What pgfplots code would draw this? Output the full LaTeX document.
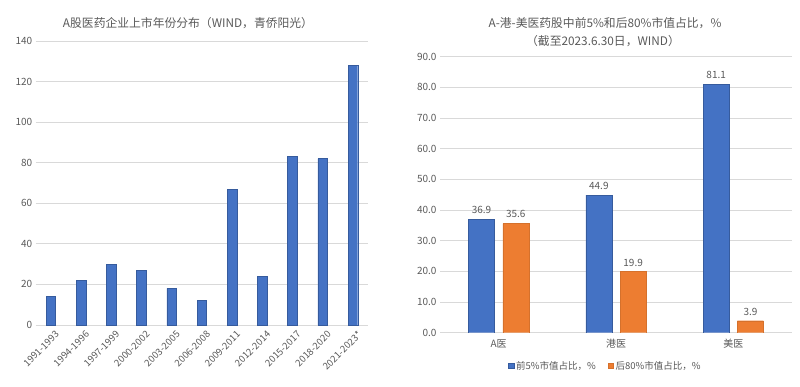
\documentclass[border=0pt]{standalone}
\usepackage{pgfplots}
\pgfplotsset{compat=1.18}
\usepackage{fontspec}
\setmainfont{Noto Sans CJK SC}
\definecolor{txt}{HTML}{595959}
\definecolor{gridc}{HTML}{D9D9D9}
\definecolor{cblue}{HTML}{4472C4}
\definecolor{corange}{HTML}{ED7D31}
\pgfplotsset{
  common/.style={
    scale only axis, anchor=south west,
    axis line style={draw=none}, tick style={draw=none}, major tick length=0pt,
    ymajorgrids, grid style={gridc, line width=0.8pt},
    /pgf/number format/assume math mode=true,
    yticklabel style={font=\fontsize{10}{12}\selectfont, color=txt},
    xticklabel style={font=\fontsize{10}{12}\selectfont, color=txt},
  }
}
\begin{document}
\begin{tikzpicture}
\useasboundingbox (0pt,0pt) rectangle (800pt,386pt);
\begin{axis}[common,
  at={(35.7pt,61pt)}, width=332.3pt, height=284pt,
  ymin=0, ymax=140, ytick={0,20,...,140},
  xmin=-0.5, xmax=10.5, xtick={0,...,10},
  xticklabels={1991-1993,1994-1996,1997-1999,2000-2002,2003-2005,2006-2008,2009-2011,2012-2014,2015-2017,2018-2020,2021-2023*},
  xticklabel style={xshift=4pt, yshift=-5pt, rotate=45, anchor=north east, inner sep=0pt, font=\fontsize{9.5}{11}\selectfont},
]
\addplot[ybar, bar width=9.6pt, fill=cblue, draw=cblue!80!black, line width=0.4pt]
 coordinates {(0,14)(1,22)(2,30)(3,27)(4,18)(5,12)(6,67)(7,24)(8,83)(9,82)(10,128)};
\end{axis}
\node[font=\fontsize{11.8}{14}\selectfont, color=txt] at (188pt,363.3pt) {A股医药企业上市年份分布（WIND，青侨阳光）};

\begin{axis}[common,
  at={(440pt,53.3pt)}, width=352pt, height=276pt,
  ymin=0, ymax=90, ytick={0,10,...,90},
  yticklabel style={/pgf/number format/.cd, fixed, fixed zerofill, precision=1},
  xmin=-0.5, xmax=2.5, xtick={0,1,2}, xticklabels={A医,港医,美医},
  xticklabel style={yshift=-3pt},
  ybar=8.3pt, bar width=26pt,
  nodes near coords,
  nodes near coords style={font=\fontsize{10}{12}\selectfont, color=txt, yshift=2pt,
    /pgf/number format/.cd, fixed, fixed zerofill, precision=1},
  legend style={at={(0.47,-0.12)}, anchor=center, legend columns=2, draw=none,
    font=\fontsize{9.5}{11}\selectfont, text=txt, /tikz/every even column/.append style={column sep=10pt}},
  legend image code/.code={\draw[#1] (0pt,-2.7pt) rectangle (5.4pt,2.7pt);},
]
\addplot[fill=cblue, draw=cblue!80!black, line width=0.4pt] coordinates {(0,36.9)(1,44.9)(2,81.1)};
\addplot[fill=corange, draw=corange!90!black, line width=0.4pt] coordinates {(0,35.6)(1,19.9)(2,3.9)};
\legend{前5\%市值占比，\%, 后80\%市值占比，\%}
\end{axis}
\node[font=\fontsize{11.8}{14}\selectfont, color=txt] at (605pt,363.3pt) {A-港-美医药股中前5\%和后80\%市值占比，\%};
\node[font=\fontsize{11.8}{14}\selectfont, color=txt] at (603pt,345pt) {（截至2023.6.30日，WIND）};
\end{tikzpicture}
\end{document}
